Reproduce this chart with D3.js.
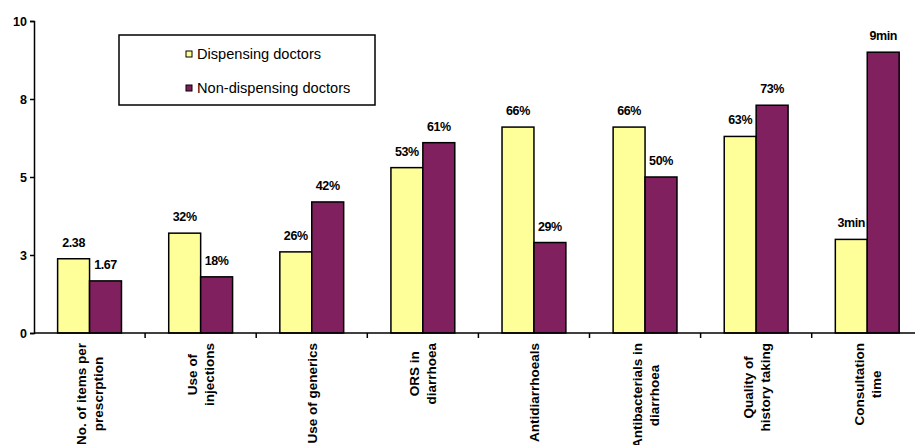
<!DOCTYPE html>
<html>
<head>
<meta charset="utf-8">
<script src="https://cdn.jsdelivr.net/npm/d3@7"></script>
<style>
  body { margin: 0; background: #fff; }
  text { font-family: Arial, "Liberation Sans", sans-serif; fill: #000; }
</style>
</head>
<body>
<div id="chart"></div>
<script>
// Chart data
var categories = [
  ["No. of items per", "prescrption"],
  ["Use of", "injections"],
  ["Use of generics"],
  ["ORS in", "diarrhoea"],
  ["Antidiarrhoeals"],
  ["Antibacterials in", "diarrhoea"],
  ["Quality of", "history taking"],
  ["Consultation", "time"]
];
var seriesNames = ["Dispensing doctors", "Non-dispensing doctors"];
var dispensingValues = [2.38, 3.2, 2.6, 5.3, 6.6, 6.6, 6.3, 3.0];
var dispensingLabels = ["2.38", "32%", "26%", "53%", "66%", "66%", "63%", "3min"];
var nonDispensingValues = [1.67, 1.8, 4.2, 6.1, 2.9, 5.0, 7.3, 9.0];
var nonDispensingLabels = ["1.67", "18%", "42%", "61%", "29%", "50%", "73%", "9min"];
var yTicks = [0, 2.5, 5, 7.5, 10];
var yTickLabels = ["0", "3", "5", "8", "10"];

var colors = ["#FFFF99", "#80205F"];

// SVG area dimensions
var svgWidth = 915;
var svgHeight = 445;

var margin = { top: 21, left: 34, bottom: 112 };
var stepWidth = 111.1;
var chartWidth = stepWidth * categories.length;
var chartHeight = svgHeight - margin.top - margin.bottom;

var svg = d3.select("#chart")
  .append("svg")
  .attr("width", svgWidth)
  .attr("height", svgHeight);

var chartGroup = svg.append("g")
  .attr("transform", `translate(${margin.left}, ${margin.top})`);

// rows for the grouped bars
var rows = categories.map(function(c, i) {
  return {
    index: i,
    lines: c,
    values: [
      { series: 0, value: dispensingValues[i], label: dispensingLabels[i] },
      { series: 1, value: nonDispensingValues[i], label: nonDispensingLabels[i] }
    ]
  };
});

// scales
var x0 = d3.scaleBand()
  .domain(d3.range(categories.length))
  .range([0, chartWidth]);

var x1 = d3.scaleBand()
  .domain([0, 1])
  .range([0, x0.bandwidth()])
  .paddingInner(0)
  .paddingOuter(0.74);

var yLinearScale = d3.scaleLinear()
  .domain([0, 10])
  .range([chartHeight, 0]);

// bars
var groups = chartGroup.selectAll(".cat")
  .data(rows)
  .enter().append("g")
  .attr("class", "cat")
  .attr("transform", d => `translate(${x0(d.index)}, 0)`);

groups.selectAll("rect")
  .data(d => d.values)
  .enter().append("rect")
  .attr("x", d => x1(d.series))
  .attr("y", d => yLinearScale(d.value))
  .attr("width", x1.bandwidth())
  .attr("height", d => chartHeight - yLinearScale(d.value))
  .attr("fill", d => colors[d.series])
  .attr("stroke", "#000")
  .attr("stroke-width", 1.5);

// value labels
groups.selectAll(".val")
  .data(d => d.values)
  .enter().append("text")
  .attr("class", "val")
  .attr("x", d => x1(d.series) + x1.bandwidth() / 2)
  .attr("y", d => yLinearScale(d.value) - 12)
  .attr("text-anchor", "middle")
  .style("font-size", "12.5px")
  .style("font-weight", "bold")
  .style("letter-spacing", "-0.4px")
  .text(d => d.label);

// y axis
var leftAxis = d3.axisLeft(yLinearScale)
  .tickValues(yTicks)
  .tickFormat((d, i) => yTickLabels[i])
  .tickSize(4)
  .tickPadding(3);

var yAxisG = chartGroup.append("g")
  .call(leftAxis);
yAxisG.select(".domain").attr("stroke-width", 1.5);
yAxisG.selectAll(".tick line").attr("stroke-width", 1.5);
yAxisG.selectAll(".tick text")
  .style("font-size", "12.5px")
  .style("font-weight", "bold")
  .attr("font-family", null);

// x axis baseline + ticks at category edges
chartGroup.append("line")
  .attr("x1", 0)
  .attr("x2", chartWidth)
  .attr("y1", chartHeight)
  .attr("y2", chartHeight)
  .attr("stroke", "#000")
  .attr("stroke-width", 1.5);

chartGroup.selectAll(".xtick")
  .data(d3.range(1, categories.length + 1))
  .enter().append("line")
  .attr("class", "xtick")
  .attr("x1", d => d * x0.step())
  .attr("x2", d => d * x0.step())
  .attr("y1", chartHeight)
  .attr("y2", chartHeight + 5)
  .attr("stroke", "#000")
  .attr("stroke-width", 1.5);

// rotated category labels
var lineGap = 17;
groups.each(function(d) {
  var n = d.lines.length;
  var g = d3.select(this).append("g")
    .attr("transform", `translate(${x0.bandwidth() / 2}, ${chartHeight + 10}) rotate(-90)`);
  var texts = g.selectAll("text")
    .data(d.lines)
    .enter().append("text")
    .attr("y", (t, i) => 5 + (i - (n - 1) / 2) * lineGap)
    .attr("text-anchor", "middle")
    .style("font-size", "13.5px")
    .style("font-weight", "bold")
    .text(t => t);
  var maxLen = 0;
  texts.each(function() { maxLen = Math.max(maxLen, this.getComputedTextLength()); });
  texts.attr("x", -maxLen / 2);
});

// legend
var legend = svg.append("g");
legend.append("rect")
  .attr("x", 119)
  .attr("y", 35)
  .attr("width", 256)
  .attr("height", 70)
  .attr("fill", "#fff")
  .attr("stroke", "#000")
  .attr("stroke-width", 1.5);

var legendItems = legend.selectAll(".item")
  .data(seriesNames)
  .enter().append("g")
  .attr("class", "item")
  .attr("transform", (d, i) => `translate(186, ${54 + i * 34})`);

legendItems.append("rect")
  .attr("x", 0)
  .attr("y", -3)
  .attr("width", 6)
  .attr("height", 6)
  .attr("fill", (d, i) => colors[i])
  .attr("stroke", "#000")
  .attr("stroke-width", 1);

legendItems.append("text")
  .attr("x", 11)
  .attr("dy", "0.35em")
  .style("font-size", "14.6px")
  .text(d => d);
</script>
</body>
</html>
